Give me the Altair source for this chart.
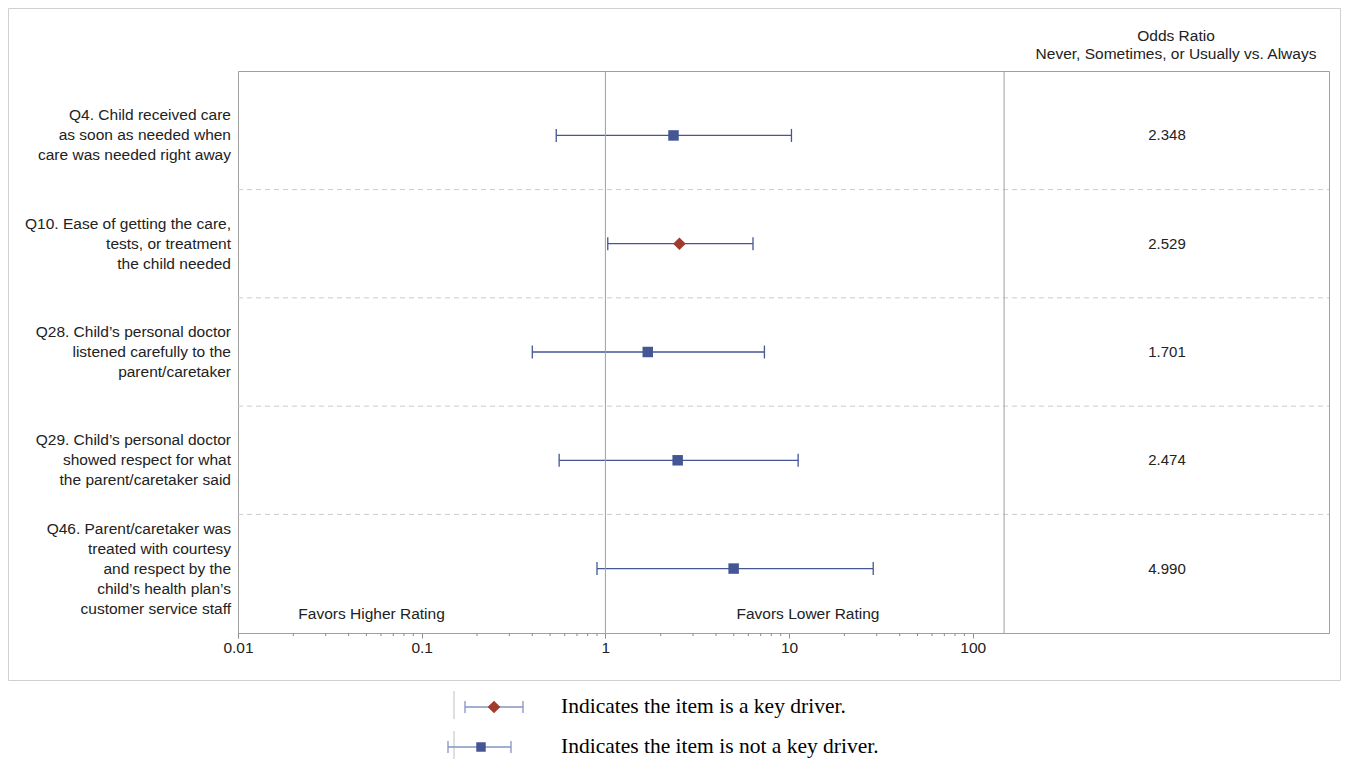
import altair as alt
import pandas as pd

# ---------------- data ----------------
questions = [
    "Q4. Child received care\nas soon as needed when\ncare was needed right away",
    "Q10. Ease of getting the care,\ntests, or treatment\nthe child needed",
    "Q28. Child\u2019s personal doctor\nlistened carefully to the\nparent/caretaker",
    "Q29. Child\u2019s personal doctor\nshowed respect for what\nthe parent/caretaker said",
    "Q46. Parent/caretaker was\ntreated with courtesy\nand respect by the\nchild\u2019s health plan\u2019s\ncustomer service staff",
]
odds_ratio = [2.348, 2.529, 1.701, 2.474, 4.990]
ci_lower = [0.54, 1.03, 0.40, 0.56, 0.90]
ci_upper = [10.3, 6.36, 7.34, 11.2, 28.7]
key_driver = [False, True, False, False, False]

major_ticks = [0.01, 0.1, 1, 10, 100]
minor_ticks = [m * d for d in [0.01, 0.1, 1, 10] for m in range(2, 10)]
divider_value = 148                 # end of the plotted odds-ratio range
reference_value = 1

favors_text = ["Favors Higher Rating", "Favors Lower Rating"]
favors_x = [0.0213, 5.17]

header_lines = ["Odds Ratio", "Never, Sometimes, or Usually vs. Always"]
legend_texts = ["Indicates the item is a key driver.",
                "Indicates the item is not a key driver."]

# ---------------- layout / styling ----------------
BLUE = "#445694"
RED = "#A23A2E"
LBLUE = "#8593c6"
FONT = "Liberation Sans"
FS = 15.5
W, H = 1091, 562
DECADE = 183.7                      # pixels per decade on the log axis
X_MIN = 0.01
X_MAX = 10 ** (-2 + W / DECADE)     # axis continues under the table column
N = len(questions)
PAD = 0.595
Y_LO, Y_HI = -PAD, N - 1 + PAD


def xv(px):      # horizontal layout position (px from plot left) -> axis units
    return 10 ** (-2 + px / DECADE)


def yv(py):      # vertical layout position (px from plot top) -> row units
    return Y_LO + py / H * (Y_HI - Y_LO)


ROW_PX = H / (Y_HI - Y_LO)
LH = 20

df = pd.DataFrame({
    "q": questions,
    "row": list(range(N)),
    "or": odds_ratio,
    "lo": ci_lower,
    "hi": ci_upper,
    "key": key_driver,
    "or_text": [f"{v:.3f}" for v in odds_ratio],
    "nl": [q.count("\n") + 1 for q in questions],
})
df["label_y"] = df["row"] - (df["nl"] - 1) * LH / 2 / ROW_PX
df["table_x"] = xv(929)

xs = alt.Scale(type="log", domain=[X_MIN, X_MAX], nice=False)
ys = alt.Scale(domain=[Y_LO, Y_HI], reverse=True, nice=False, zero=False)

xaxis = alt.Axis(values=major_ticks, title=None, grid=False, format="~g",
                 tickSize=5, tickColor="#8c8c8c", domainColor="#a0a0a0",
                 labelFont=FONT, labelFontSize=FS, labelColor="#222",
                 labelPadding=2, labelFlush=False)

X = lambda f: alt.X(f)
Y = lambda f: alt.Y(f)

whisk = alt.Chart(df).mark_rule(color=BLUE, strokeWidth=1.3).encode(
    x=alt.X("lo:Q", scale=xs, axis=xaxis),
    x2="hi:Q",
    y=alt.Y("row:Q", scale=ys, axis=None),
)

CAP = "M0,-1L0,1"
cap_lo = alt.Chart(df).mark_point(shape=CAP, filled=False, color=BLUE, strokeWidth=1.3,
                                  size=169, opacity=1).encode(x=X("lo:Q"), y=Y("row:Q"))
cap_hi = alt.Chart(df).mark_point(shape=CAP, filled=False, color=BLUE, strokeWidth=1.3,
                                  size=169, opacity=1).encode(x=X("hi:Q"), y=Y("row:Q"))

pts_key = alt.Chart(df[df["key"]]).mark_point(
    filled=True, opacity=1, shape="diamond", color=RED, size=160).encode(
    x=X("or:Q"), y=Y("row:Q"))
pts_not = alt.Chart(df[~df["key"]]).mark_point(
    filled=True, opacity=1, shape="square", color=BLUE, size=110).encode(
    x=X("or:Q"), y=Y("row:Q"))

labels = alt.Chart(df).mark_text(
    align="right", baseline="middle", font=FONT, fontSize=FS, color="#222",
    lineBreak="\n", lineHeight=LH).encode(
    x=alt.value(-7), y=Y("label_y:Q"), text="q:N")

or_vals = alt.Chart(df).mark_text(align="center", baseline="middle", font=FONT, fontSize=15,
                                  color="#222").encode(
    x=X("table_x:Q"), y=Y("row:Q"), text="or_text:N")

sep_df = pd.DataFrame({"row": [i + 0.5 for i in range(N - 1)], "a": X_MIN, "b": X_MAX})
seps = alt.Chart(sep_df).mark_rule(color="#cccccc", strokeDash=[5, 4], strokeWidth=1).encode(
    y=Y("row:Q"), x=X("a:Q"), x2="b:Q")

vl_df = pd.DataFrame({"v": [reference_value, divider_value],
                      "c": ["ref", "div"], "y1": Y_LO, "y2": Y_HI})
ref = alt.Chart(vl_df[vl_df["c"] == "ref"]).mark_rule(color="#9aa0ad", strokeWidth=1).encode(
    x=X("v:Q"), y=Y("y1:Q"), y2="y2:Q")
div = alt.Chart(vl_df[vl_df["c"] == "div"]).mark_rule(color="#a0a0a0", strokeWidth=1).encode(
    x=X("v:Q"), y=Y("y1:Q"), y2="y2:Q")

minor_df = pd.DataFrame({"v": minor_ticks, "y1": Y_HI, "y2": yv(H + 3)})
minor = alt.Chart(minor_df).mark_rule(color="#8c8c8c", strokeWidth=1).encode(
    x=X("v:Q"), y=Y("y1:Q"), y2="y2:Q")

fav_df = pd.DataFrame({"t": favors_text, "v": favors_x, "y": yv(543)})
fav = alt.Chart(fav_df).mark_text(align="left", baseline="middle", font=FONT, fontSize=FS,
                                  color="#222").encode(
    x=X("v:Q"), y=Y("y:Q"), text="t:N")

hdr_df = pd.DataFrame({"t": header_lines, "v": xv(938), "y": [yv(-35), yv(-17)]})
hdr = alt.Chart(hdr_df).mark_text(align="center", baseline="middle", font=FONT, fontSize=FS,
                                  color="#222").encode(
    x=X("v:Q"), y=Y("y:Q"), text="t:N")

# outer frame (four light rules)
fx1, fx2, fy1, fy2 = xv(-229.5), xv(1102.5), yv(-62.5), yv(609.5)
frame_df = pd.DataFrame({
    "a": [fx1, fx1, fx1, fx2], "b": [fx2, fx2, fx1, fx2],
    "y1": [fy1, fy2, fy1, fy1], "y2": [fy1, fy2, fy2, fy2],
})
frame = alt.Chart(frame_df).mark_rule(color="#d0d0d0", strokeWidth=1).encode(
    x=X("a:Q"), x2="b:Q", y=Y("y1:Q"), y2="y2:Q")

# ---------------- legend (below the frame) ----------------
leg_rows = [636, 676]
leg_df = pd.DataFrame({
    "t": legend_texts,
    "y": [yv(r) for r in leg_rows],
    "vy1": [yv(r - 16) for r in leg_rows],
    "vy2": [yv(r + 12) for r in leg_rows],
    "vx": xv(216),
    "w1": [xv(227), xv(210)],
    "w2": [xv(285), xv(273)],
    "p": [xv(256), xv(243)],
    "tx": xv(323),
})
leg_v = alt.Chart(leg_df).mark_rule(color="#c0c0c0", strokeWidth=1).encode(
    x=X("vx:Q"), y=Y("vy1:Q"), y2="vy2:Q")
leg_w = alt.Chart(leg_df).mark_rule(color=LBLUE, strokeWidth=1.3).encode(
    x=X("w1:Q"), x2="w2:Q", y=Y("y:Q"))
leg_c1 = alt.Chart(leg_df).mark_point(shape=CAP, filled=False, color=LBLUE, strokeWidth=1.3,
                                      size=144, opacity=1).encode(x=X("w1:Q"), y=Y("y:Q"))
leg_c2 = alt.Chart(leg_df).mark_point(shape=CAP, filled=False, color=LBLUE, strokeWidth=1.3,
                                      size=144, opacity=1).encode(x=X("w2:Q"), y=Y("y:Q"))
leg_pk = alt.Chart(leg_df.iloc[[0]]).mark_point(filled=True, opacity=1, shape="diamond",
                                               color=RED, size=160).encode(x=X("p:Q"), y=Y("y:Q"))
leg_pn = alt.Chart(leg_df.iloc[[1]]).mark_point(filled=True, opacity=1, shape="square",
                                               color=BLUE, size=90).encode(x=X("p:Q"), y=Y("y:Q"))
leg_t = alt.Chart(leg_df).mark_text(align="left", baseline="middle", font="Liberation Serif",
                                    fontSize=21.5, color="#000").encode(
    x=X("tx:Q"), y=Y("y:Q"), text="t:N")

chart = alt.layer(
    whisk, frame, seps, ref, div, minor, cap_lo, cap_hi, pts_not, pts_key, labels, or_vals,
    fav, hdr, leg_v, leg_w, leg_c1, leg_c2, leg_pk, leg_pn, leg_t,
).properties(
    width=W, height=H, padding=0,
).configure_view(stroke="#a0a0a0")

chart.save("out.html", embed_options={"renderer": "svg", "actions": False})
